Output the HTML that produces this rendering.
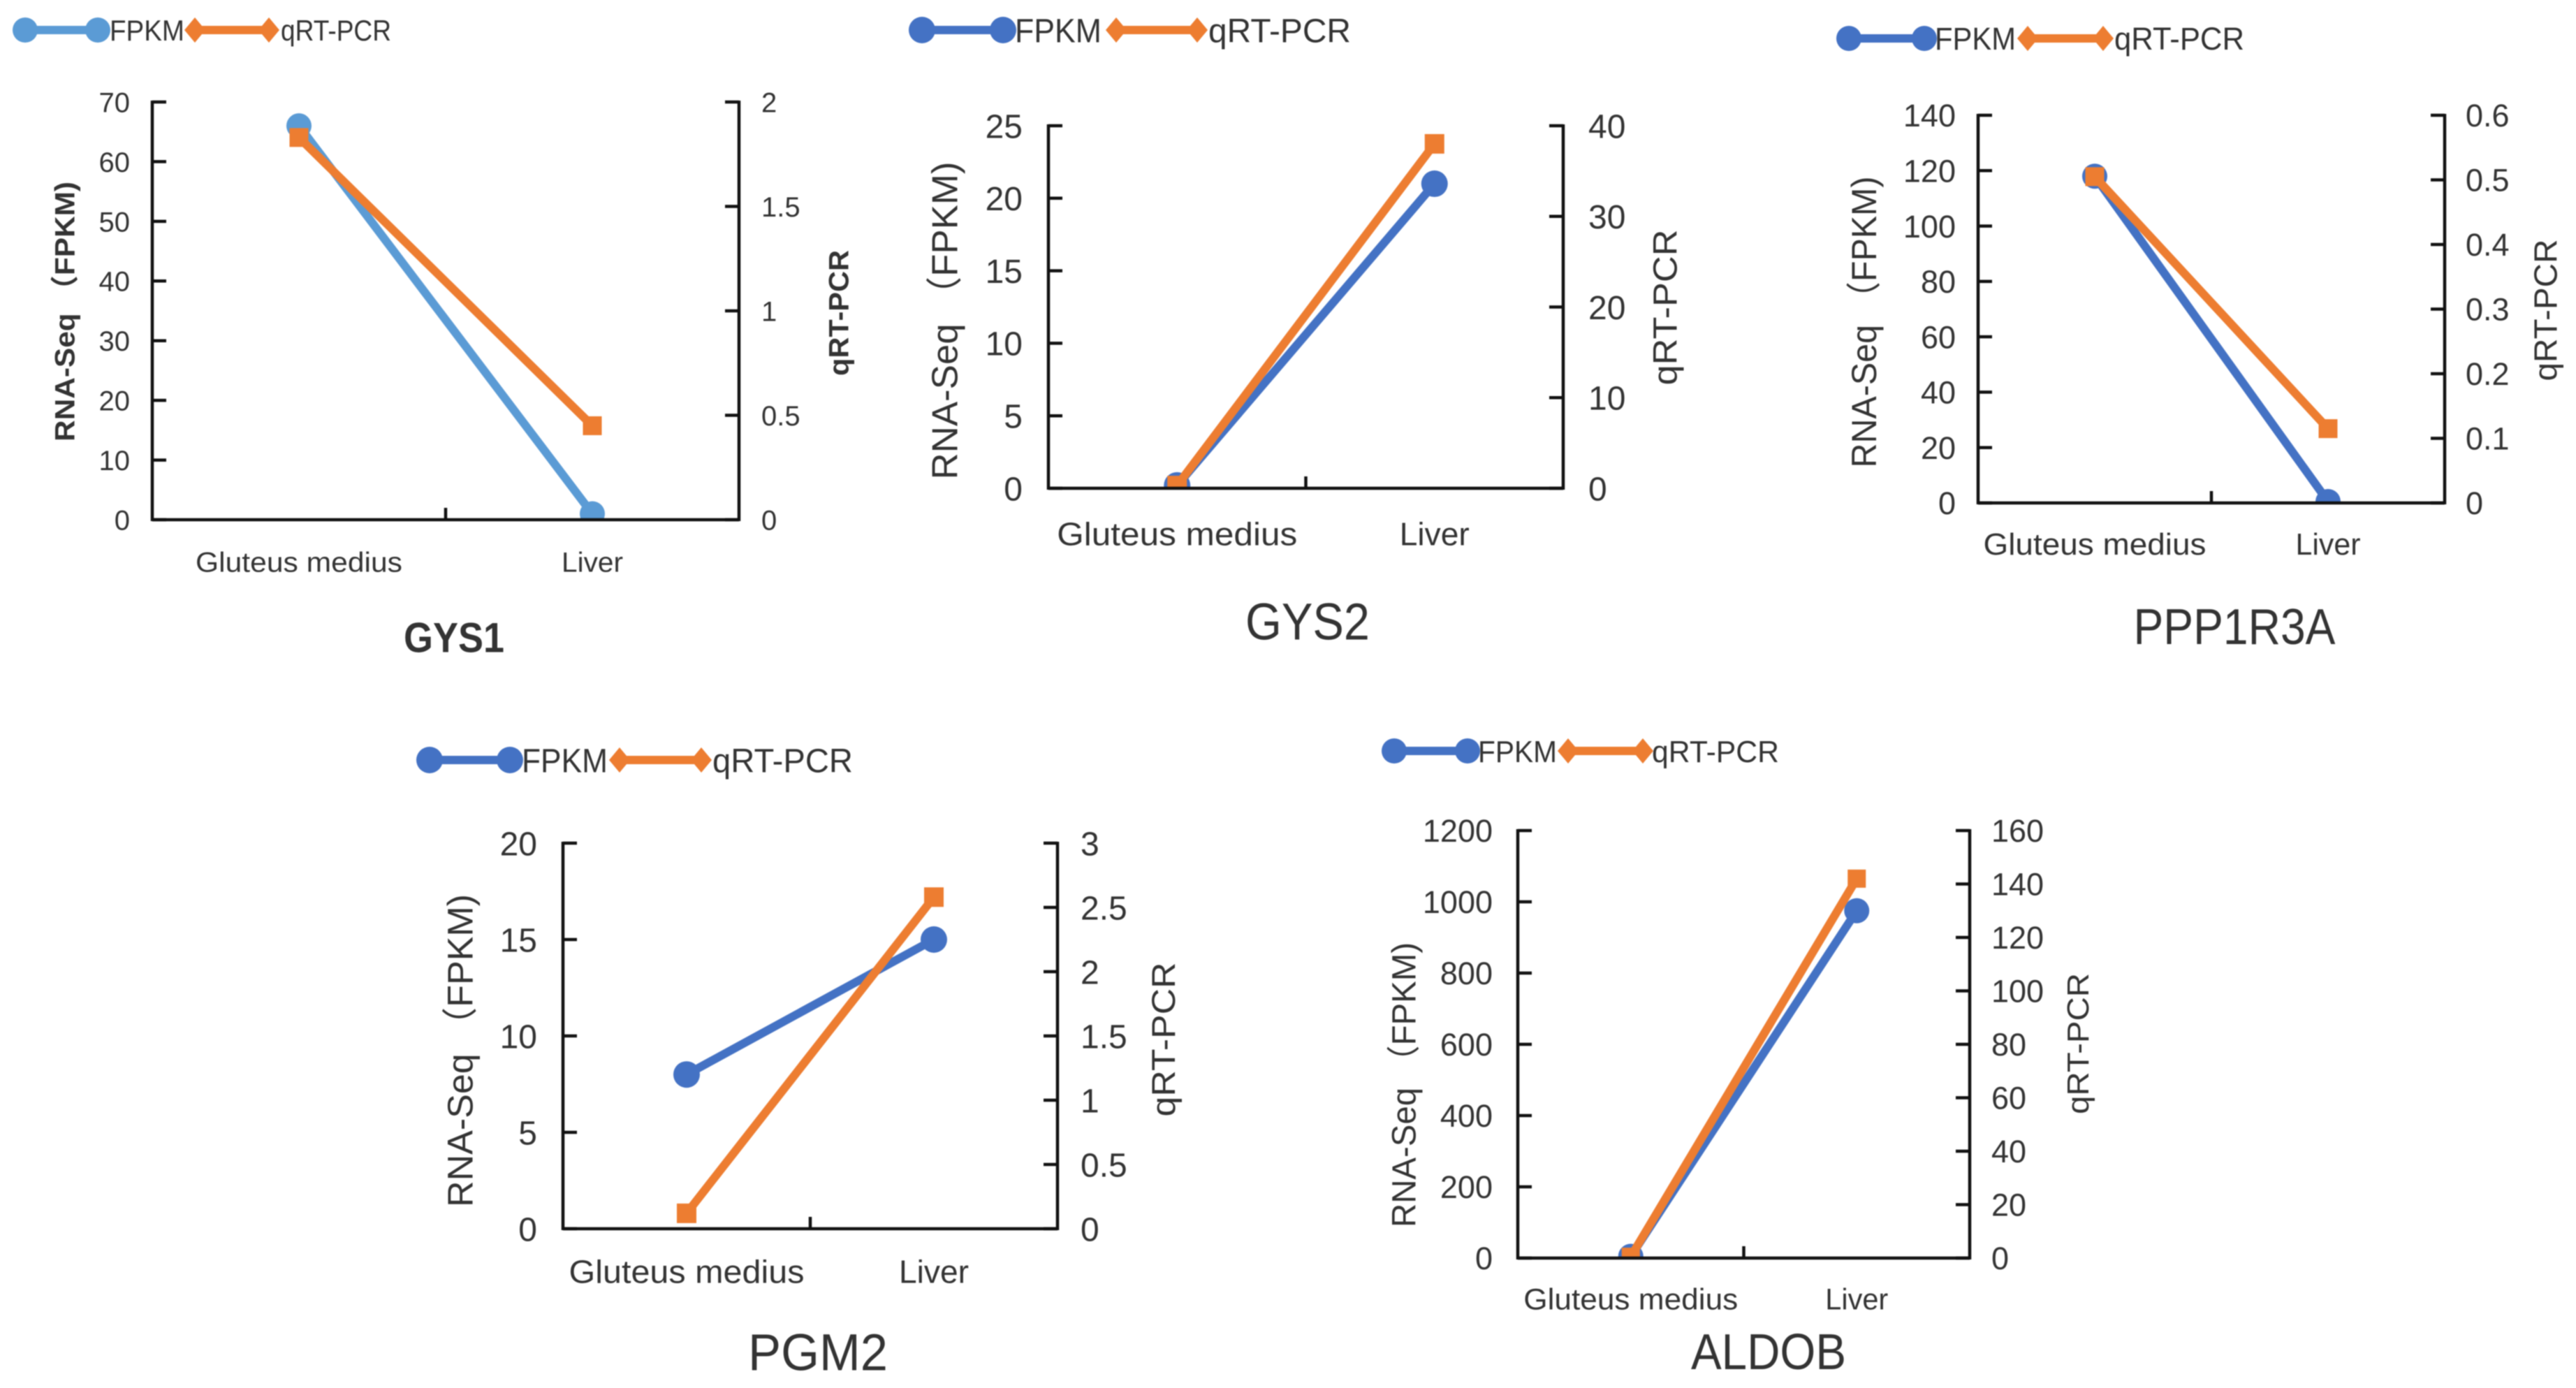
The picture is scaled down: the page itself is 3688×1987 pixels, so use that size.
<!DOCTYPE html>
<html lang="en">
<head>
<meta charset="utf-8">
<title>RNA-Seq and qRT-PCR comparison charts</title>
<style>
html,body{margin:0;padding:0;background:#fff;}
svg{display:block;width:3688px;height:1987px;filter:blur(0.9px);}
text{font-family:"Liberation Sans","Noto Sans CJK SC",sans-serif;fill:#333;}
</style>
</head>
<body>
<svg id="figure" xmlns="http://www.w3.org/2000/svg" width="3688" height="1987" viewBox="0 0 3688 1987"></svg>
<script>
const categories = ['Gluteus medius', 'Liver'];

const gys1Fpkm = [66, 1];
const gys1Qpcr = [1.83, 0.45];
const gys1LeftTicks = [0, 10, 20, 30, 40, 50, 60, 70];
const gys1RightTicks = [0, 0.5, 1, 1.5, 2];

const gys2Fpkm = [0.2, 21];
const gys2Qpcr = [0.3, 38];
const gys2LeftTicks = [0, 5, 10, 15, 20, 25];
const gys2RightTicks = [0, 10, 20, 30, 40];

const ppp1r3aFpkm = [118, 0.5];
const ppp1r3aQpcr = [0.505, 0.115];
const ppp1r3aLeftTicks = [0, 20, 40, 60, 80, 100, 120, 140];
const ppp1r3aRightTicks = [0, 0.1, 0.2, 0.3, 0.4, 0.5, 0.6];

const pgm2Fpkm = [8, 15];
const pgm2Qpcr = [0.12, 2.58];
const pgm2LeftTicks = [0, 5, 10, 15, 20];
const pgm2RightTicks = [0, 0.5, 1, 1.5, 2, 2.5, 3];

const aldobFpkm = [5, 975];
const aldobQpcr = [0.5, 142];
const aldobLeftTicks = [0, 200, 400, 600, 800, 1000, 1200];
const aldobRightTicks = [0, 20, 40, 60, 80, 100, 120, 140, 160];

const NS = 'http://www.w3.org/2000/svg';
const svg = document.getElementById('figure');
const BLUE = '#4472c4', LIGHT_BLUE = '#5b9bd5', ORANGE = '#ed7d31';

function make(parent, tag, props, content) {
  const el = document.createElementNS(NS, tag);
  for (const k in props) el.setAttribute(k, props[k]);
  if (content !== undefined) el.textContent = content;
  parent.appendChild(el);
  return el;
}

function label(parent, str, x, cy, size, opts) {
  const o = opts || {};
  const props = {'font-size': size, 'text-anchor': o.anchor || 'middle'};
  if (o.weight) props['font-weight'] = o.weight;
  if (o.fit) { props.textLength = o.fit; props.lengthAdjust = 'spacingAndGlyphs'; }
  if (o.rotate) {
    props.transform = 'translate(' + x + ' ' + cy + ') rotate(-90)';
    props.x = 0; props.y = size * 0.36;
  } else {
    props.x = x; props.y = cy + size * 0.36;
  }
  return make(parent, 'text', props, str);
}

function drawChart(c) {
  const g = make(svg, 'g', {});
  
  

  const yLeft = v => c.B - (v - c.leftTicks[0]) / (c.leftTicks[c.leftTicks.length - 1] - c.leftTicks[0]) * (c.B - c.T);
  const yRight = v => c.B - (v - c.rightTicks[0]) / (c.rightTicks[c.rightTicks.length - 1] - c.rightTicks[0]) * (c.B - c.T);
  const xCat = i => c.L + (i + 0.5) * (c.R - c.L) / categories.length;

  const clipId = 'clip-' + c.key;
  const defs = make(g, 'defs', {});
  const clip = make(defs, 'clipPath', {id: clipId});
  make(clip, 'rect', {x: c.L - 40, y: c.T - 40, width: c.R - c.L + 80, height: c.B - c.T + 40});

  const plot = make(g, 'g', {'clip-path': 'url(#' + clipId + ')'});
  
  

  const fpkmLine = make(plot, 'polyline', {
    points: c.fpkm.map((v, i) => xCat(i) + ',' + yLeft(v)).join(' '),
    fill: 'none', stroke: c.fpkmColor, 'stroke-width': c.lineW
  });
  
  

  c.fpkm.forEach((v, i) => {
    const pt = make(plot, 'circle', {cx: xCat(i), cy: yLeft(v), r: c.markerR, fill: c.fpkmColor});
    
    
  });

  const qpcrLine = make(plot, 'polyline', {
    points: c.qpcr.map((v, i) => xCat(i) + ',' + yRight(v)).join(' '),
    fill: 'none', stroke: ORANGE, 'stroke-width': c.lineW
  });
  
  

  c.qpcr.forEach((v, i) => {
    const s = c.squareS;
    const pt = make(plot, 'rect', {x: xCat(i) - s / 2, y: yRight(v) - s / 2, width: s, height: s, fill: ORANGE});
    
    
  });

  const axes = make(g, 'g', {stroke: '#111', 'stroke-width': 4.5, fill: 'none'});
  
  
  make(axes, 'line', {x1: c.L, y1: c.T - 2, x2: c.L, y2: c.B + 2});
  make(axes, 'line', {x1: c.R, y1: c.T - 2, x2: c.R, y2: c.B + 2});
  make(axes, 'line', {x1: c.L, y1: c.B, x2: c.R, y2: c.B});
  const midX = (c.L + c.R) / 2;
  make(axes, 'line', {x1: midX, y1: c.B, x2: midX, y2: c.B - 17});

  c.leftTicks.forEach(t => {
    const y = yLeft(t);
    make(axes, 'line', {x1: c.L, y1: y, x2: c.L + 20, y2: y});
    const el = label(g, String(t), c.leftLabelX, y, c.tickSize, {anchor: 'end'});
    
    
  });
  c.rightTicks.forEach(t => {
    const y = yRight(t);
    make(axes, 'line', {x1: c.R, y1: y, x2: c.R - 20, y2: y});
    const el = label(g, String(t), c.rightLabelX, y, c.tickSize, {anchor: 'start'});
    
    
  });

  categories.forEach((name, i) => {
    const el = label(g, name, xCat(i), c.catY, c.catSize, {fit: c.catFit[i]});
    
    
  });

  const lt = label(g, c.leftTitle, c.leftTitleX, c.leftTitleY, c.axisTitleSize, {rotate: true, fit: c.leftTitleFit, weight: c.bold ? 'bold' : null});
  
  

  const rt = label(g, 'qRT-PCR', c.rightTitleX, c.rightTitleY, c.rightTitleSize, {rotate: true, fit: c.rightTitleFit, weight: c.bold ? 'bold' : null});
  
  

  const title = label(g, c.title, c.titleX, c.titleY, c.titleSize, {fit: c.titleFit, weight: c.bold ? 'bold' : null});
  
  

  const lg = c.legend;
  const legend = make(g, 'g', {});
  
  

  const fEntry = make(legend, 'g', {});
  
  
  make(fEntry, 'line', {x1: lg.c1, y1: lg.y, x2: lg.c2, y2: lg.y, stroke: c.fpkmColor, 'stroke-width': c.lineW});
  make(fEntry, 'circle', {cx: lg.c1, cy: lg.y, r: c.markerR, fill: c.fpkmColor});
  make(fEntry, 'circle', {cx: lg.c2, cy: lg.y, r: c.markerR, fill: c.fpkmColor});
  label(fEntry, 'FPKM', lg.fx, lg.y, lg.size, {anchor: 'start', fit: lg.fw});

  const qEntry = make(legend, 'g', {});
  
  
  make(qEntry, 'line', {x1: lg.d1, y1: lg.y, x2: lg.d2, y2: lg.y, stroke: ORANGE, 'stroke-width': c.lineW});
  [lg.d1, lg.d2].forEach(dx => {
    make(qEntry, 'polygon', {
      points: (dx - 15) + ',' + lg.y + ' ' + dx + ',' + (lg.y - 18) + ' ' + (dx + 15) + ',' + lg.y + ' ' + dx + ',' + (lg.y + 18),
      fill: ORANGE
    });
  });
  label(qEntry, 'qRT-PCR', lg.qx, lg.y, lg.size, {anchor: 'start', fit: lg.qw});
}

drawChart({
  key: 'gys1', title: 'GYS1', bold: true,
  fpkm: gys1Fpkm, qpcr: gys1Qpcr, leftTicks: gys1LeftTicks, rightTicks: gys1RightTicks,
  L: 218, R: 1058, T: 146, B: 744, fpkmColor: LIGHT_BLUE, lineW: 12, markerR: 18, squareS: 27,
  tickSize: 40, leftLabelX: 186, rightLabelX: 1090, catY: 804, catSize: 40, catFit: [296, 88],
  leftTitle: 'RNA-Seq （FPKM)', leftTitleX: 92, leftTitleY: 446, leftTitleFit: 372,
  rightTitleX: 1200, rightTitleY: 448, rightTitleFit: 180, axisTitleSize: 40, rightTitleSize: 40,
  titleX: 650, titleY: 912, titleSize: 60, titleFit: 144,
  legend: {y: 43, c1: 36, c2: 140, fx: 157, fw: 107, d1: 279, d2: 385, qx: 402, qw: 158, size: 42}
});
drawChart({
  key: 'gys2', title: 'GYS2', bold: false,
  fpkm: gys2Fpkm, qpcr: gys2Qpcr, leftTicks: gys2LeftTicks, rightTicks: gys2RightTicks,
  L: 1501, R: 2238, T: 180, B: 699, fpkmColor: BLUE, lineW: 12, markerR: 19, squareS: 28,
  tickSize: 48, leftLabelX: 1464, rightLabelX: 2274, catY: 764, catSize: 46, catFit: [344, 100],
  leftTitle: 'RNA-Seq （FPKM)', leftTitleX: 1352, leftTitleY: 459, leftTitleFit: 455,
  rightTitleX: 2383, rightTitleY: 440, rightTitleFit: 223, axisTitleSize: 52, rightTitleSize: 48,
  titleX: 1872, titleY: 889, titleSize: 74, titleFit: 178,
  legend: {y: 43, c1: 1320, c2: 1436, fx: 1453, fw: 124, d1: 1598, d2: 1714, qx: 1730, qw: 204, size: 48}
});
drawChart({
  key: 'ppp1r3a', title: 'PPP1R3A', bold: false,
  fpkm: ppp1r3aFpkm, qpcr: ppp1r3aQpcr, leftTicks: ppp1r3aLeftTicks, rightTicks: ppp1r3aRightTicks,
  L: 2832, R: 3500, T: 165, B: 720, fpkmColor: BLUE, lineW: 12, markerR: 18, squareS: 27,
  tickSize: 45, leftLabelX: 2800, rightLabelX: 3530, catY: 778, catSize: 44, catFit: [319, 93],
  leftTitle: 'RNA-Seq （FPKM)', leftTitleX: 2668, leftTitleY: 461, leftTitleFit: 417,
  rightTitleX: 3644, rightTitleY: 444, rightTitleFit: 203, axisTitleSize: 50, rightTitleSize: 46,
  titleX: 3199, titleY: 896, titleSize: 72, titleFit: 289,
  legend: {y: 55, c1: 2647, c2: 2755, fx: 2770, fw: 116, d1: 2903, d2: 3011, qx: 3027, qw: 186, size: 45}
});
drawChart({
  key: 'pgm2', title: 'PGM2', bold: false,
  fpkm: pgm2Fpkm, qpcr: pgm2Qpcr, leftTicks: pgm2LeftTicks, rightTicks: pgm2RightTicks,
  L: 806, R: 1514, T: 1207, B: 1759, fpkmColor: BLUE, lineW: 12, markerR: 19, squareS: 28,
  tickSize: 48, leftLabelX: 769, rightLabelX: 1547, catY: 1820, catSize: 46, catFit: [337, 100],
  leftTitle: 'RNA-Seq （FPKM)', leftTitleX: 658, leftTitleY: 1504, leftTitleFit: 448,
  rightTitleX: 1665, rightTitleY: 1488, rightTitleFit: 221, axisTitleSize: 51, rightTitleSize: 47,
  titleX: 1171, titleY: 1935, titleSize: 74, titleFit: 200,
  legend: {y: 1088, c1: 615, c2: 730, fx: 747, fw: 123, d1: 887, d2: 1004, qx: 1020, qw: 201, size: 48}
});
drawChart({
  key: 'aldob', title: 'ALDOB', bold: false,
  fpkm: aldobFpkm, qpcr: aldobQpcr, leftTicks: aldobLeftTicks, rightTicks: aldobRightTicks,
  L: 2173, R: 2820, T: 1189, B: 1801, fpkmColor: BLUE, lineW: 12, markerR: 18, squareS: 26,
  tickSize: 45, leftLabelX: 2137, rightLabelX: 2851, catY: 1859, catSize: 43, catFit: [307, 90],
  leftTitle: 'RNA-Seq （FPKM)', leftTitleX: 2009, leftTitleY: 1553, leftTitleFit: 408,
  rightTitleX: 2974, rightTitleY: 1494, rightTitleFit: 202, axisTitleSize: 48, rightTitleSize: 44,
  titleX: 2532, titleY: 1934, titleSize: 72, titleFit: 222,
  legend: {y: 1075, c1: 1996, c2: 2101, fx: 2116, fw: 113, d1: 2245, d2: 2352, qx: 2365, qw: 182, size: 44}
});
</script>
</body>
</html>
